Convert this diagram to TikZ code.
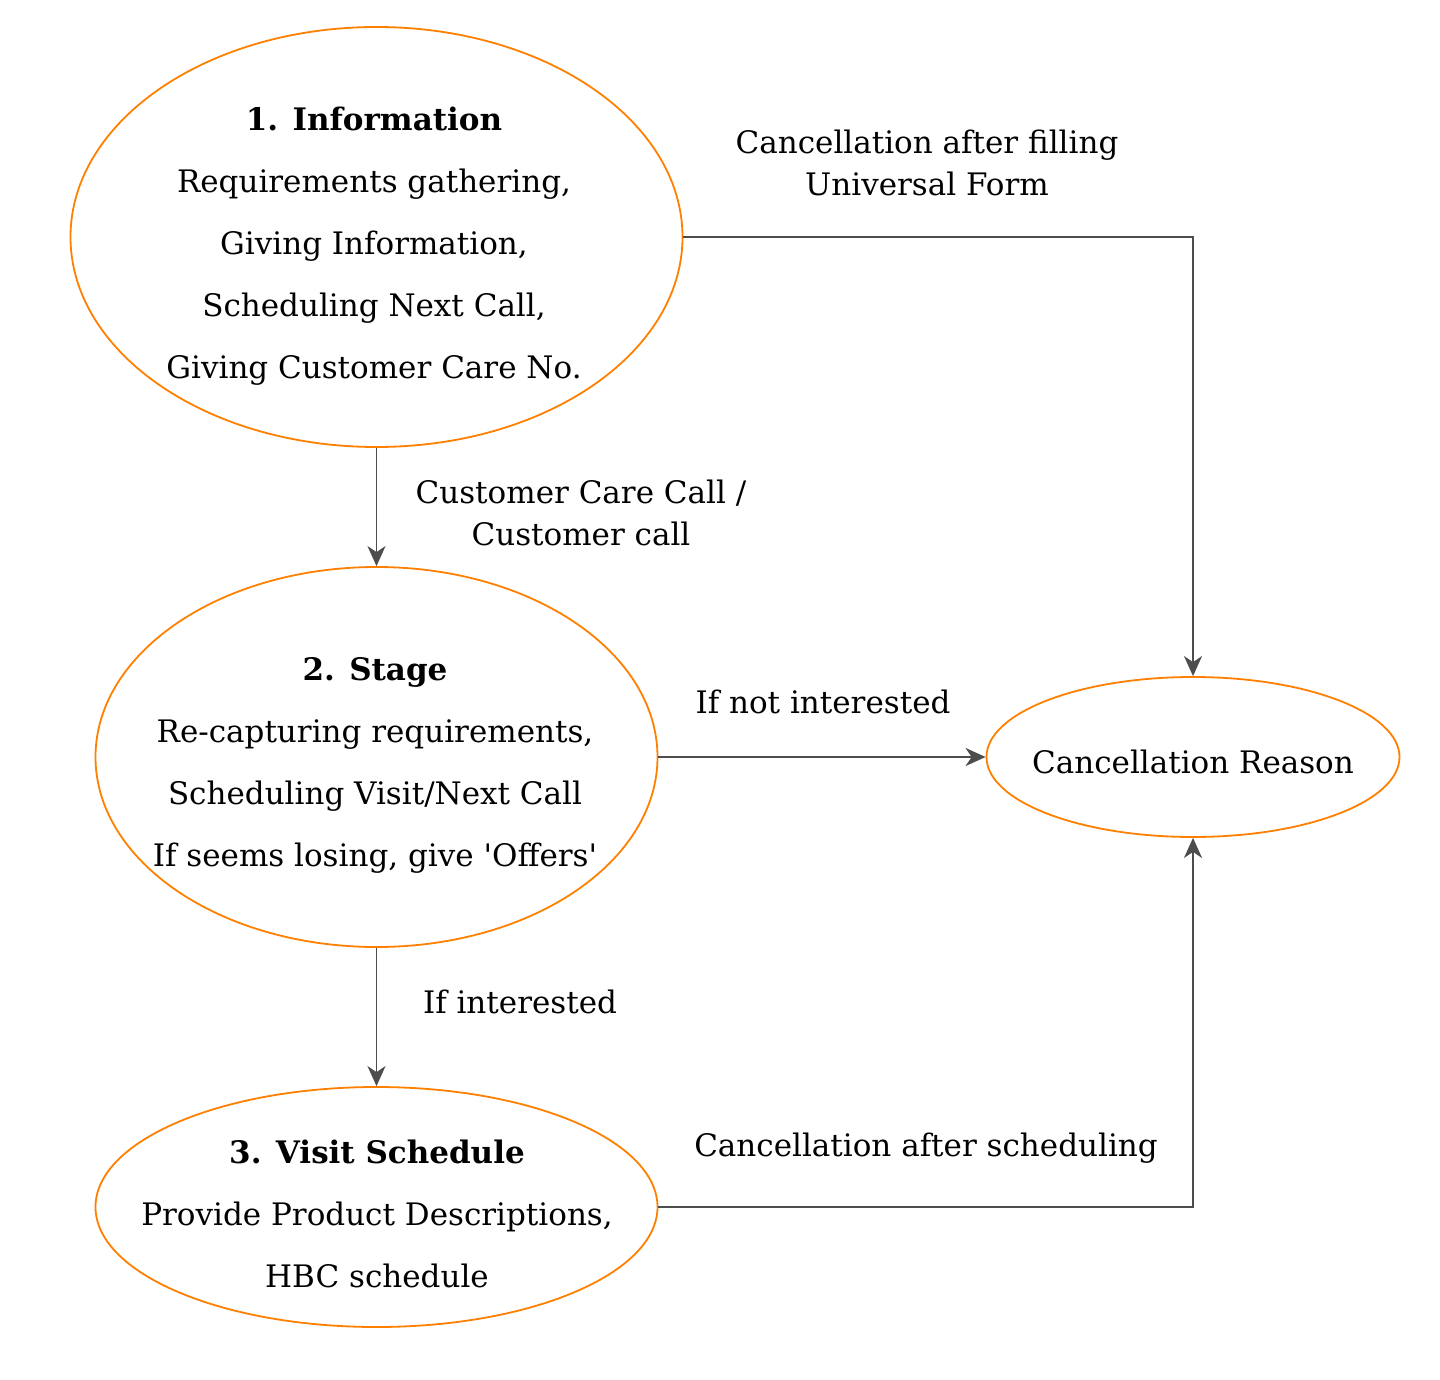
\documentclass[tikz,border=0pt]{standalone}
\usepackage{fontspec}
\setmainfont{DejaVu Serif}
\usetikzlibrary{shapes.geometric,arrows.meta}
\definecolor{orng}{HTML}{FF8000}
\definecolor{lnk}{HTML}{4D4D4D}
\tikzset{
  oval/.style={ellipse,draw=orng,line width=0.9pt,inner sep=0pt},
  txt/.style={align=center,inner sep=0pt,font=\fontsize{15.5}{31}\selectfont},
  lbl/.style={align=center,inner sep=0pt,font=\fontsize{15.5}{21}\selectfont},
  conn/.style={draw=lnk,line width=0.9pt,-{Stealth[length=10pt,width=9pt,inset=3pt]}}
}
\begin{document}
\begin{tikzpicture}[x=0.5pt,y=-0.5pt]
\useasboundingbox (0,0) rectangle (1440,1380);
\node[oval,minimum width=612pt*0.5,minimum height=420pt*0.5] (info) at (376.5,237) {};
\node[oval,minimum width=562pt*0.5,minimum height=380pt*0.5] (stage) at (376.5,757) {};
\node[oval,minimum width=562pt*0.5,minimum height=240pt*0.5] (visit) at (376.5,1207) {};
\node[oval,minimum width=413pt*0.5,minimum height=160pt*0.5] (cancel) at (1193,757) {};
\node[txt] (infot) at (374,246) {\textbf{1. Information}\\Requirements gathering,\\Giving Information,\\Scheduling Next Call,\\Giving Customer Care No.};
\node[txt] (staget) at (375,765) {\textbf{2. Stage}\\Re-capturing requirements,\\Scheduling Visit/Next Call\\If seems losing, give \textquotesingle Offers\textquotesingle};
\node[txt] (visitt) at (377,1214) {\textbf{3. Visit Schedule}\\Provide Product Descriptions,\\HBC schedule};
\node[txt] (cancelt) at (1193,762) {Cancellation Reason};
\draw[conn] (info.east) -| (cancel.north);
\draw[conn] (info.south) -- (stage.north);
\draw[conn] (stage.east) -- (cancel.west);
\draw[conn] (stage.south) -- (visit.north);
\draw[conn] (visit.east) -| (cancel.south);
\node[lbl] (l1) at (927,163) {Cancellation after filling\\Universal Form};
\node[lbl] (l2) at (581,513) {Customer Care Call /\\Customer call};
\node[lbl] (l3) at (823,702) {If not interested};
\node[lbl] (l4) at (520,1002) {If interested};
\node[lbl] (l5) at (926,1148) {Cancellation after scheduling};
\end{tikzpicture}
\end{document}
